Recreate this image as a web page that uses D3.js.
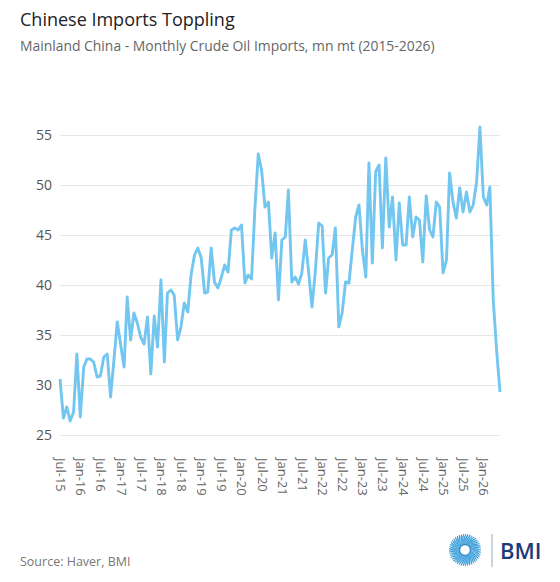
<!DOCTYPE html>
<html>
<head>
<meta charset="utf-8">
<script src="https://cdn.jsdelivr.net/npm/d3@7"></script>
<style>
  body { margin: 0; background: #fff; }
  text { font-family: "Open Sans", sans-serif; }
</style>
</head>
<body>
<div id="chart"></div>
<script>
// monthly crude oil imports, mn mt, Jul-15 .. Jun-26
const startMonth = '2015-07';
const imports = [
  30.6, 26.7, 27.8, 26.4, 27.3, 33.1, 26.8, 31.8, 32.6, 32.6, 32.3, 30.8,
  30.9, 32.8, 33.1, 28.8, 32.5, 36.3, 34.0, 31.8, 38.8, 34.5, 37.2, 36.2,
  34.8, 34.1, 36.8, 31.1, 36.9, 33.8, 40.5, 32.3, 39.2, 39.5, 39.0, 34.5,
  35.8, 38.2, 37.3, 41.0, 43.0, 43.7, 42.7, 39.2, 39.3, 43.7, 40.3, 39.7,
  40.7, 42.0, 41.3, 45.5, 45.7, 45.5, 46.0, 40.2, 41.0, 40.6, 47.5, 53.1,
  51.5, 47.8, 48.3, 42.7, 45.2, 38.5, 44.5, 44.8, 49.5, 40.3, 40.8, 40.1,
  41.2, 44.5, 41.3, 37.8, 41.5, 46.2, 45.9, 39.2, 42.7, 43.0, 45.7, 35.8,
  37.2, 40.3, 40.2, 43.5, 46.8, 48.0, 43.5, 40.8, 52.2, 42.2, 51.3, 52.0,
  43.7, 52.7, 45.8, 48.8, 42.5, 48.2, 44.0, 44.0, 48.8, 44.8, 46.8, 46.5,
  42.3, 48.9, 45.5, 44.8, 48.3, 47.8, 41.2, 42.5, 51.2, 48.3, 46.7, 49.7,
  47.3, 49.3, 47.3, 48.0, 50.3, 55.8, 48.8, 48.0, 49.8, 38.5, 33.5, 29.3
];
const yTicks = [25, 30, 35, 40, 45, 50, 55];
const xTickLabels = [
  'Jul-15', 'Jan-16', 'Jul-16', 'Jan-17', 'Jul-17', 'Jan-18', 'Jul-18',
  'Jan-19', 'Jul-19', 'Jan-20', 'Jul-20', 'Jan-21', 'Jul-21', 'Jan-22',
  'Jul-22', 'Jan-23', 'Jul-23', 'Jan-24', 'Jul-24', 'Jan-25', 'Jul-25', 'Jan-26'
];

const width = 560;
const height = 582;
const margin = { top: 135, right: 60, bottom: 147, left: 60 };

const parseMonth = d3.timeParse('%Y-%m');
const parseLabel = d3.timeParse('%b-%y');
const start = parseMonth(startMonth);
const data = imports.map((v, i) => ({ date: d3.timeMonth.offset(start, i), value: v }));

const svg = d3.select('#chart')
  .append('svg')
  .attr('width', width)
  .attr('height', height);

const x = d3.scaleTime()
  .domain(d3.extent(data, (d) => d.date))
  .range([margin.left, width - margin.right]);

const y = d3.scaleLinear()
  .domain([25, 55])
  .range([height - margin.bottom, margin.top]);

// titles
svg.append('text')
  .attr('x', 20)
  .attr('y', 26)
  .attr('font-size', 18)
  .attr('fill', '#222')
  .text('Chinese Imports Toppling');

svg.append('text')
  .attr('x', 20)
  .attr('y', 51)
  .attr('font-size', 13.9)
  .attr('fill', '#666')
  .text('Mainland China - Monthly Crude Oil Imports, mn mt (2015-2026)');

// grid + y labels
const yAxis = svg.append('g')
  .attr('transform', `translate(${margin.left},0)`)
  .call(d3.axisLeft(y)
    .tickValues(yTicks)
    .tickSize(-(width - margin.left - margin.right))
    .tickPadding(8));
yAxis.select('.domain').remove();
yAxis.selectAll('.tick line').attr('stroke', '#e6e6e6');
yAxis.selectAll('.tick text')
  .attr('font-size', 14)
  .attr('fill', '#555')
  .style('font-family', '"Open Sans", sans-serif');

// x labels, rotated
const xAxis = svg.append('g')
  .attr('transform', `translate(0,${height - margin.bottom})`)
  .call(d3.axisBottom(x)
    .tickValues(xTickLabels.map(parseLabel))
    .tickSize(0)
    .tickFormat(d3.timeFormat('%b-%y')));
xAxis.select('.domain').remove();
xAxis.selectAll('.tick text')
  .attr('font-size', 13)
  .attr('fill', '#666')
  .style('font-family', '"Open Sans", sans-serif')
  .attr('text-anchor', 'start')
  .attr('transform', 'translate(0,23) rotate(90)')
  .attr('x', 0)
  .attr('y', 0)
  .attr('dy', '0.35em');

// line
const line = d3.line()
  .x((d) => x(d.date))
  .y((d) => y(d.value));

svg.append('path')
  .datum(data)
  .attr('fill', 'none')
  .attr('stroke', '#72c6f0')
  .attr('stroke-width', 2.9)
  .attr('stroke-linejoin', 'round')
  .attr('d', line);

// source
svg.append('text')
  .attr('x', 20)
  .attr('y', 566)
  .attr('font-size', 12.5)
  .attr('fill', '#777')
  .text('Source: Haver, BMI');

// BMI logo
const logo = svg.append('g').attr('transform', 'translate(465,550)');
const rays = d3.range(0, 360, 4);
logo.selectAll('line')
  .data(rays)
  .enter()
  .append('line')
  .attr('x1', (a) => 6 * Math.cos(a * Math.PI / 180))
  .attr('y1', (a) => 6 * Math.sin(a * Math.PI / 180))
  .attr('x2', (a) => (14 + (a % 8 === 0 ? 2 : 0)) * Math.cos((a + 25) * Math.PI / 180))
  .attr('y2', (a) => (14 + (a % 8 === 0 ? 2 : 0)) * Math.sin((a + 25) * Math.PI / 180))
  .attr('stroke', (a) => (a % 8 === 0 ? '#3a9ad6' : '#7fc6ec'))
  .attr('stroke-width', 1.1);
logo.append('circle')
  .attr('r', 5.5)
  .attr('fill', '#fff')
  .attr('stroke', '#2f8fd0')
  .attr('stroke-width', 1.4);

svg.append('line')
  .attr('x1', 492).attr('x2', 492)
  .attr('y1', 534).attr('y2', 567)
  .attr('stroke', '#9aa9bd')
  .attr('stroke-width', 1);

svg.append('text')
  .attr('x', 500)
  .attr('y', 559)
  .attr('font-size', 22)
  .attr('font-weight', 600)
  .attr('fill', '#1e3a78')
  .style('font-family', '"Open Sans", sans-serif')
  .text('BMI');
</script>
</body>
</html>
